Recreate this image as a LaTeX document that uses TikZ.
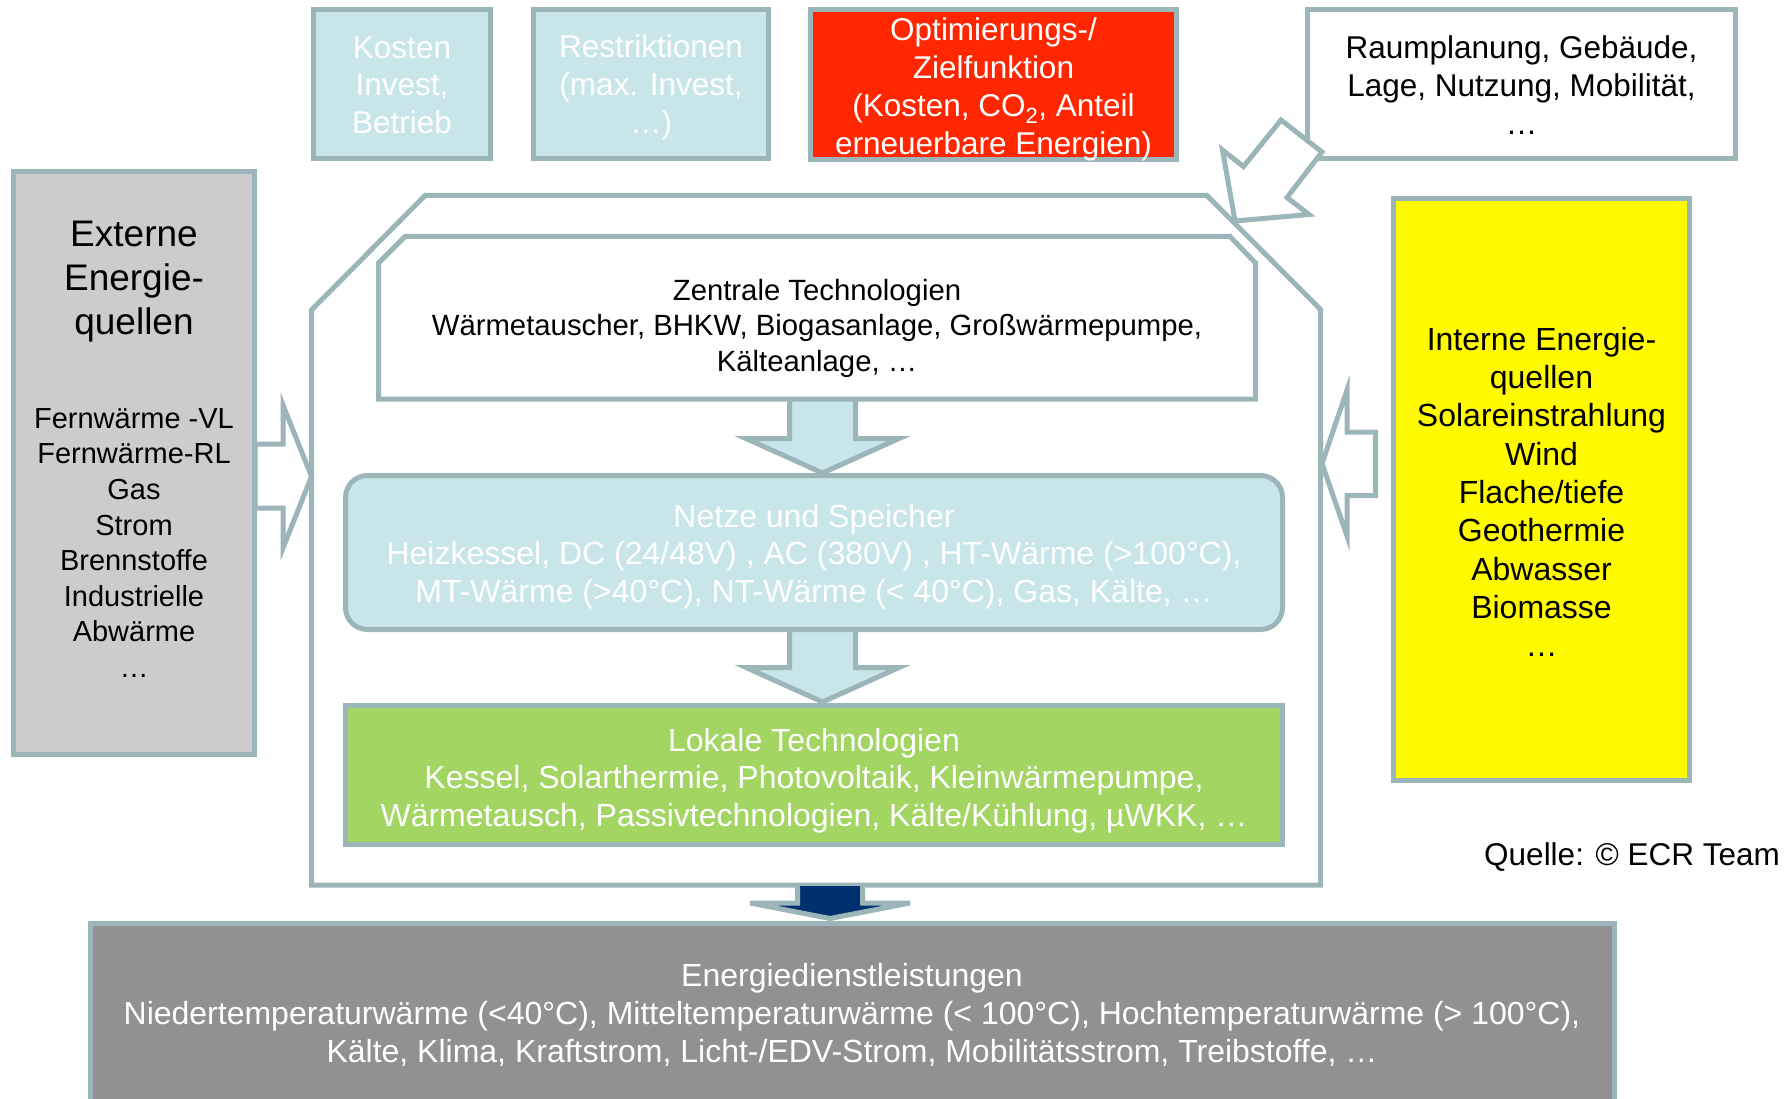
\documentclass[tikz,border=0pt]{standalone}
\usepackage{fontspec}
\setmainfont{Liberation Sans}
\definecolor{bord}{HTML}{9BB5B9}
\definecolor{lblue}{HTML}{C8E6E9}
\definecolor{redbox}{HTML}{FF2600}
\definecolor{grayext}{HTML}{CCCCCC}
\definecolor{yelbox}{HTML}{FFFA00}
\definecolor{greenbox}{HTML}{A2D562}
\definecolor{grayserv}{HTML}{919191}
\definecolor{navyarrow}{HTML}{003070}
\begin{document}
\begin{tikzpicture}[x=1pt,y=-1pt,
  bd/.style={draw=bord,line width=5pt,line join=miter},
  box/.style={bd,inner sep=0pt},
  txt/.style={inner sep=0pt,align=center},
  fA/.style={font=\fontsize{31.5}{37.7}\selectfont},
  fB/.style={font=\fontsize{32}{37.7}\selectfont},
  fZ/.style={font=\fontsize{29.3}{35.5}\selectfont}]
\useasboundingbox (0,0) rectangle (1791,1099);
\clip (0,0) rectangle (1791,1099);

% house outline
\draw[bd] (311.5,885) -- (311.5,310) -- (425,195.5) -- (1207,195.5) -- (1320.5,309.5) -- (1320.5,885) -- cycle;

% block arrows inside the house
\filldraw[bd,fill=lblue] (789.5,399) -- (789.5,438.5) -- (746,438.5) -- (822.5,473) -- (899,438.5) -- (855.5,438.5) -- (855.5,399);
\filldraw[bd,fill=lblue] (789.5,630) -- (789.5,667.5) -- (746,667.5) -- (822.5,702) -- (899,667.5) -- (855.5,667.5) -- (855.5,630);
% dark arrow to services
\filldraw[bd,fill=navyarrow] (797.5,886) -- (797.5,903) -- (750,903) -- (830,918.5) -- (910,903) -- (862.5,903) -- (862.5,886);
% side arrows
\filldraw[bd,fill=white] (255,444) -- (283,444) -- (283,405) -- (311.5,476.5) -- (283,548) -- (283,508) -- (255,508) -- cycle;
\filldraw[bd,fill=white] (1375.5,432) -- (1347,432) -- (1347,390) -- (1322,463.5) -- (1347,536) -- (1347,495.5) -- (1375.5,495.5) -- cycle;

% Zentrale Technologien
\filldraw[bd,fill=white] (378.5,399) -- (378.5,263) -- (405,236.5) -- (1230,236.5) -- (1255.5,263) -- (1255.5,399) -- cycle;
\node[txt,fZ] (zentral) at (817,328) {Zentrale Technologien\\Wärmetauscher, BHKW, Biogasanlage, Großwärmepumpe,\\Kälteanlage, …};

% Netze und Speicher
\node[box,fill=lblue,rounded corners=22pt,minimum width=937pt,minimum height=154pt] (netze) at (814,552.5) {};
\node[txt,fB,text=white] (netzetxt) at (814,556.7)
  {Netze und Speicher\\Heizkessel, DC (24/48V) , AC (380V) , HT-Wärme (>100°C),\\MT-Wärme (>40°C), NT-Wärme (< 40°C), Gas, Kälte, …};

% Lokale Technologien
\node[box,fill=greenbox,minimum width=937pt,minimum height=139pt] (lokal) at (814,775) {};
\node[txt,fB,text=white] (lokaltxt) at (814,780.5)
  {Lokale Technologien\\Kessel, Solarthermie, Photovoltaik, Kleinwärmepumpe,\\Wärmetausch, Passivtechnologien, Kälte/Kühlung, µWKK, …};

% Energiedienstleistungen
\node[box,fill=grayserv,minimum width=1524pt,minimum height=200pt] (ener) at (852.5,1023.5) {};
\node[txt,fB,text=white] (enertxt) at (852,1015)
  {Energiedienstleistungen\\Niedertemperaturwärme (<40°C), Mitteltemperaturwärme (< 100°C), Hochtemperaturwärme (> 100°C),\\Kälte, Klima, Kraftstrom, Licht-/EDV-Strom, Mobilitätsstrom, Treibstoffe, …};

% top boxes
\node[box,fill=lblue,minimum width=177pt,minimum height=149pt] (kosten) at (402,84) {};
\node[txt,fA,text=white] (kostentxt) at (402,85.2) {Kosten\\Invest,\\Betrieb};
\node[box,fill=lblue,minimum width=235pt,minimum height=149pt] (restr) at (651,84) {};
\node[txt,fA,text=white] (restrtxt) at (651,87.4) {Restriktionen\\(max. Invest,\\…)};
\node[box,fill=redbox,minimum width=366pt,minimum height=150pt] (ziel) at (993.5,84.5) {};
\node[txt,text=white,font=\fontsize{31.5}{38.2}\selectfont] (zieltxt) at (993.5,89.2)
  {Optimierungs-/\\Zielfunktion\\(Kosten, CO\textsubscript{2}, Anteil\\erneuerbare Energien)};
\node[box,fill=white,minimum width=428pt,minimum height=149pt] (raum) at (1521.5,84) {};
\node[txt,fA] (raumtxt) at (1521.5,85) {Raumplanung, Gebäude,\\Lage, Nutzung, Mobilität,\\…};

% diagonal arrow from Raumplanung to house
\filldraw[bd,fill=white] (1235,221) -- (1222.5,150) -- (1243.5,166.5) -- (1281,120) -- (1322,152) -- (1287,197.5) -- (1309,214.5) -- cycle;

% Externe Energiequellen
\node[box,fill=grayext,minimum width=241pt,minimum height=583pt] (ext) at (134,463) {};
\node[txt,font=\fontsize{37}{44}\selectfont] (exttitle) at (134,281.5) {Externe\\Energie-\\quellen};
\node[txt,font=\fontsize{29}{35.6}\selectfont] (extlist) at (134,543)
  {Fernwärme -VL\\Fernwärme-RL\\Gas\\Strom\\Brennstoffe\\Industrielle\\Abwärme\\…};

% Interne Energiequellen
\node[box,fill=yelbox,minimum width=296pt,minimum height=582pt] (int) at (1541.5,489.5) {};
\node[txt,font=\fontsize{32}{38.3}\selectfont] (inttxt) at (1541.5,492)
  {Interne Energie-\\quellen\\Solareinstrahlung\\Wind\\Flache/tiefe\\Geothermie\\Abwasser\\Biomasse\\…};

% source
\node[txt,fA,anchor=west] (quelle) at (1484,857.4) {Quelle: © ECR Team};
\end{tikzpicture}
\end{document}
